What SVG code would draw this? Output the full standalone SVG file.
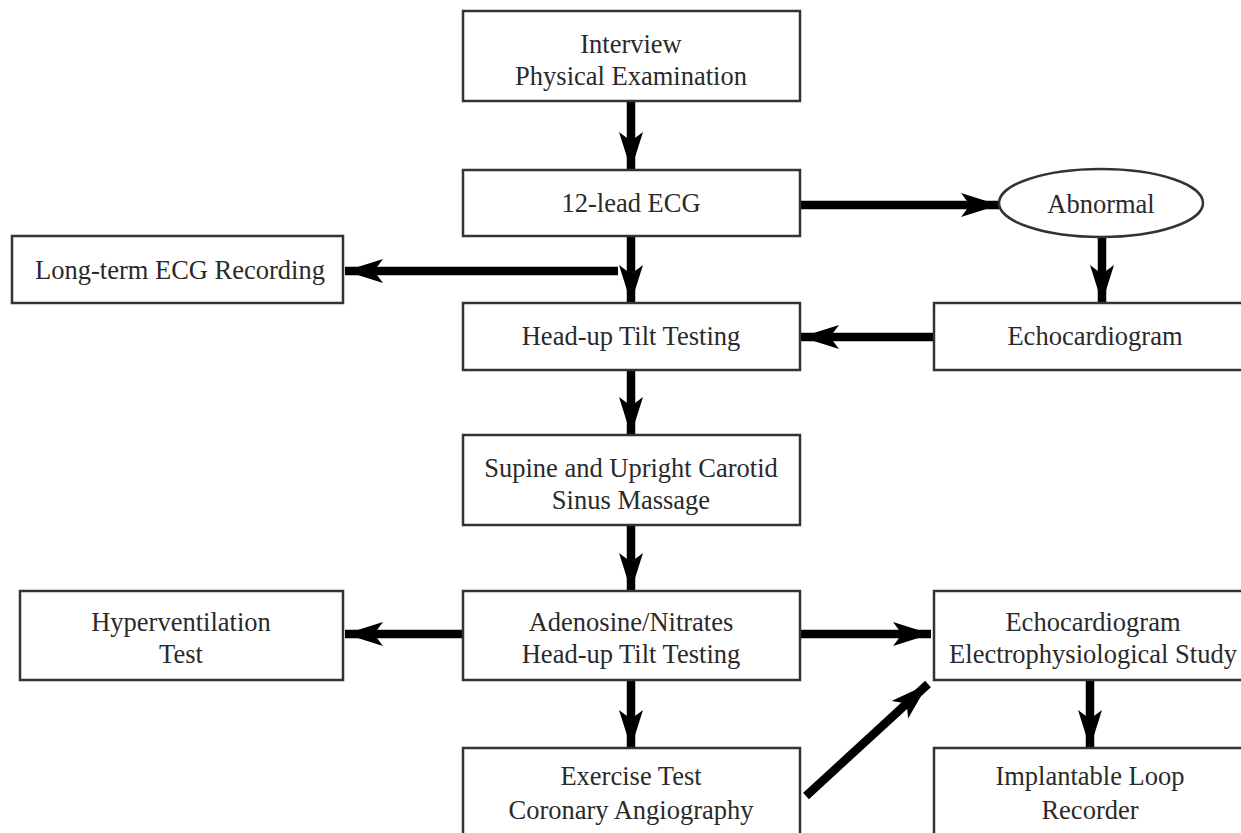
<svg xmlns="http://www.w3.org/2000/svg" width="1241" height="833" viewBox="0 0 1241 833">
<style>
.box{fill:#fff;stroke:#333;stroke-width:2.5}
.t{font-family:"Liberation Serif","Times New Roman",serif;font-size:26.5px;fill:#2a2a2a;text-anchor:middle}
.c{stroke:#000;stroke-width:8.5;fill:none}
</style>
<defs>
<marker id="ah" markerUnits="userSpaceOnUse" markerWidth="40" markerHeight="26" refX="38" refY="12" orient="auto">
<path d="M0,0 L38,12 L0,24 L9,12 Z" fill="#000"/>
</marker>
</defs>
<rect width="1241" height="833" fill="#fff"/>
<g id="connectors">
<line class="c" x1="631" y1="101" x2="631" y2="170" marker-end="url(#ah)"/>
<line class="c" x1="800" y1="205" x2="999" y2="205" marker-end="url(#ah)"/>
<line class="c" x1="631" y1="236" x2="631" y2="303" marker-end="url(#ah)"/>
<line class="c" x1="618" y1="271" x2="345" y2="271" marker-end="url(#ah)"/>
<line class="c" x1="1102" y1="236" x2="1102" y2="303" marker-end="url(#ah)"/>
<line class="c" x1="934" y1="337" x2="801" y2="337" marker-end="url(#ah)"/>
<line class="c" x1="631" y1="370" x2="631" y2="435" marker-end="url(#ah)"/>
<line class="c" x1="631" y1="525" x2="631" y2="591" marker-end="url(#ah)"/>
<line class="c" x1="463" y1="634" x2="345" y2="634" marker-end="url(#ah)"/>
<line class="c" x1="800" y1="634" x2="931" y2="634" marker-end="url(#ah)"/>
<line class="c" x1="631" y1="680" x2="631" y2="748" marker-end="url(#ah)"/>
<line class="c" x1="806" y1="796" x2="928" y2="684" marker-end="url(#ah)"/>
<line class="c" x1="1090" y1="680" x2="1090" y2="748" marker-end="url(#ah)"/>
</g>
<g id="n1"><rect class="box" x="463" y="11" width="337" height="90"/><text class="t" x="631" y="53">Interview</text><text class="t" x="631" y="85">Physical Examination</text></g>
<g id="n2"><rect class="box" x="463" y="170" width="337" height="66"/><text class="t" x="631" y="212">12-lead ECG</text></g>
<g id="n3"><ellipse class="box" cx="1101" cy="203" rx="102" ry="34"/><text class="t" x="1101" y="213">Abnormal</text></g>
<g id="n4"><rect class="box" x="12" y="236" width="331" height="67"/><text class="t" x="180" y="279">Long-term ECG Recording</text></g>
<g id="n5"><rect class="box" x="463" y="303" width="337" height="67"/><text class="t" x="631" y="345">Head-up Tilt Testing</text></g>
<g id="n6"><rect class="box" x="934" y="303" width="320" height="67"/><text class="t" x="1095" y="345">Echocardiogram</text></g>
<g id="n7"><rect class="box" x="463" y="435" width="337" height="90"/><text class="t" x="631" y="477">Supine and Upright Carotid</text><text class="t" x="631" y="509">Sinus Massage</text></g>
<g id="n8"><rect class="box" x="20" y="591" width="323" height="89"/><text class="t" x="181" y="631">Hyperventilation</text><text class="t" x="181" y="663">Test</text></g>
<g id="n9"><rect class="box" x="463" y="591" width="337" height="89"/><text class="t" x="631" y="631">Adenosine/Nitrates</text><text class="t" x="631" y="663">Head-up Tilt Testing</text></g>
<g id="n10"><rect class="box" x="934" y="591" width="320" height="89"/><text class="t" x="1093" y="631">Echocardiogram</text><text class="t" x="1093" y="663">Electrophysiological Study</text></g>
<g id="n11"><rect class="box" x="463" y="748" width="337" height="100"/><text class="t" x="631" y="785">Exercise Test</text><text class="t" x="631" y="819">Coronary Angiography</text></g>
<g id="n12"><rect class="box" x="934" y="748" width="320" height="100"/><text class="t" x="1090" y="785">Implantable Loop</text><text class="t" x="1090" y="819">Recorder</text></g>
</svg>
